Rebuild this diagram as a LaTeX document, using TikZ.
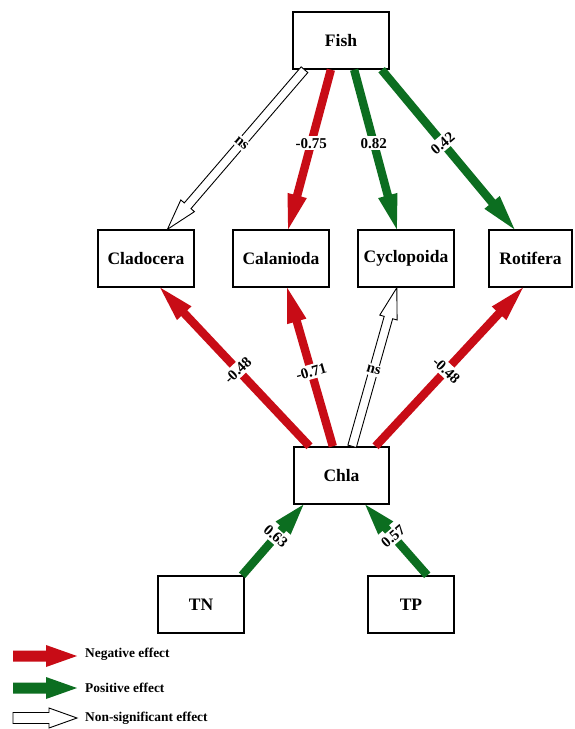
\documentclass[tikz,border=0pt]{standalone}
\usepackage{fontspec}
\setmainfont{Liberation Serif}
\usetikzlibrary{calc}
\definecolor{negred}{RGB}{200,12,22}
\definecolor{posgreen}{RGB}{12,110,32}
% #1 start, #2 tip, #3 style, #4 shaft half-width, #5 head half-width, #6 head length
\newcommand\fatarrow[6]{%
  \coordinate (faC) at ($(#2)!#6!(#1)$);
  \path[#3] ($(#1)!#4!90:(#2)$) -- ($(faC)!#4!90:(#2)$) -- ($(faC)!#5!90:(#2)$) -- (#2)
    -- ($(faC)!#5!-90:(#2)$) -- ($(faC)!#4!-90:(#2)$) -- ($(#1)!#4!-90:(#2)$) -- cycle;}
\begin{document}
\begin{tikzpicture}[x=1pt,y=-1pt,
  box/.style={draw,line width=1.4pt,minimum width=96pt,minimum height=57pt,inner sep=0pt,
    font=\fontsize{17.5}{20}\selectfont\bfseries},
  negarr/.style={fill=negred},
  posarr/.style={fill=posgreen},
  nsarr/.style={fill=white,draw=black,line width=0.9pt,line join=miter},
  lab/.style={fill=white,inner sep=2.2pt,font=\fontsize{15}{17}\selectfont\bfseries},
  leg/.style={anchor=west,inner sep=0pt,font=\fontsize{13.4}{15}\selectfont\bfseries}]
\fill[white] (0,0) rectangle (574,729);
\useasboundingbox (0,0) rectangle (574,729);

% boxes
\node[box] (fish) at (341,40.5) {Fish};
\node[box] (clad) at (146,258.5) {Cladocera};
\node[box] (cala) at (281,258.5) {Calanioda};
\node[box] (cycl) at (406,258.5) {Cyclopoida};
\node[box,minimum width=83pt] (roti) at (530.5,258.5) {Rotifera};
\node[box,minimum width=95pt] (chla) at (341.5,475.5) {Chla};
\node[box,minimum width=86pt] (tn) at (201,604.5) {TN};
\node[box,minimum width=86pt] (tp) at (411,604.5) {TP};

% anchor points
\coordinate (f1) at ($(fish.south west)!0.125!(fish.south east)$);
\coordinate (f2) at ($(fish.south west)!0.396!(fish.south east)$);
\coordinate (f3) at ($(fish.south west)!0.635!(fish.south east)$);
\coordinate (f4) at ($(fish.south west)!0.917!(fish.south east)$);
\coordinate (cladT) at ($(clad.north west)!0.72!(clad.north east)$);
\coordinate (calaT) at ($(cala.north west)!0.573!(cala.north east)$);
\coordinate (cyclT) at ($(cycl.north west)!0.406!(cycl.north east)$);
\coordinate (rotiT) at ($(roti.north west)!0.31!(roti.north east)$);
\coordinate (c1) at ($(chla.north west)!0.168!(chla.north east)$);
\coordinate (c2) at ($(chla.north west)!0.41!(chla.north east)$);
\coordinate (c3) at ($(chla.north west)!0.61!(chla.north east)$);
\coordinate (c4) at ($(chla.north west)!0.853!(chla.north east)$);
\coordinate (cladB) at ($(clad.south west)!0.646!(clad.south east)$);
\coordinate (calaB) at ($(cala.south west)!0.5625!(cala.south east)$);
\coordinate (cyclB) at ($(cycl.south west)!0.406!(cycl.south east)$);
\coordinate (rotiB) at ($(roti.south west)!0.41!(roti.south east)$);
\coordinate (tnT) at ($(tn.north west)!0.97!(tn.north east)$);
\coordinate (tpT) at ($(tp.north west)!0.686!(tp.north east)$);
\coordinate (cb1) at ($(chla.south west)!0.105!(chla.south east)$);
\coordinate (cb2) at ($(chla.south west)!0.747!(chla.south east)$);

% Fish arrows
\fatarrow{f1}{cladT}{nsarr}{4.4pt}{9pt}{31pt}
\fatarrow{f2}{calaT}{negarr}{4.2pt}{10pt}{35pt}
\fatarrow{f3}{cyclT}{posarr}{4.2pt}{10pt}{35pt}
\fatarrow{f4}{rotiT}{posarr}{4.2pt}{10pt}{35pt}
\path (f1) -- (cladT) node[lab,pos=0.46,rotate=-40.6] (l1) {ns};
\path (f2) -- (calaT) node[lab,pos=0.46] (l2) {-0.75};
\path (f3) -- (cyclT) node[lab,pos=0.46] (l3) {0.82};
\path (f4) -- (rotiT) node[lab,pos=0.46,rotate=40.3] (l4) {0.42};

% Chla arrows
\fatarrow{c1}{cladB}{negarr}{4.2pt}{10pt}{35pt}
\fatarrow{c2}{calaB}{negarr}{4.2pt}{10pt}{35pt}
\fatarrow{c3}{cyclB}{nsarr}{4.4pt}{9pt}{31pt}
\fatarrow{c4}{rotiB}{negarr}{4.2pt}{10pt}{35pt}
\path (c1) -- (cladB) node[lab,pos=0.48,rotate=43.5] (l5) {-0.48};
\path (c2) -- (calaB) node[lab,pos=0.47,rotate=16] (l6) {-0.71};
\path (c3) -- (cyclB) node[lab,pos=0.48,rotate=-16] (l7) {ns};
\path (c4) -- (rotiB) node[lab,pos=0.48,rotate=-43] (l8) {-0.48};

% TN, TP arrows
\fatarrow{tnT}{cb1}{posarr}{4.2pt}{10pt}{31pt}
\fatarrow{tpT}{cb2}{posarr}{4.2pt}{10pt}{31pt}
\path (tnT) -- (cb1) node[lab,pos=0.55,rotate=-41] (l9) {0.63};
\path (tpT) -- (cb2) node[lab,pos=0.55,rotate=41] (l10) {0.57};

% legend
\coordinate (g1a) at (13,656); \coordinate (g1b) at (77,656);
\coordinate (g2a) at (13,688); \coordinate (g2b) at (77,688);
\coordinate (g3a) at (13,718); \coordinate (g3b) at (77,718);
\fatarrow{g1a}{g1b}{negarr}{5.5pt}{11pt}{31pt}
\fatarrow{g2a}{g2b}{posarr}{5.5pt}{11pt}{31pt}
\fatarrow{g3a}{g3b}{nsarr}{5.5pt}{10pt}{28pt}
\node[leg] (t1) at (85,654) {Negative effect};
\node[leg] (t2) at (85,688) {Positive effect};
\node[leg] (t3) at (85,718) {Non-significant effect};
\end{tikzpicture}
\end{document}
